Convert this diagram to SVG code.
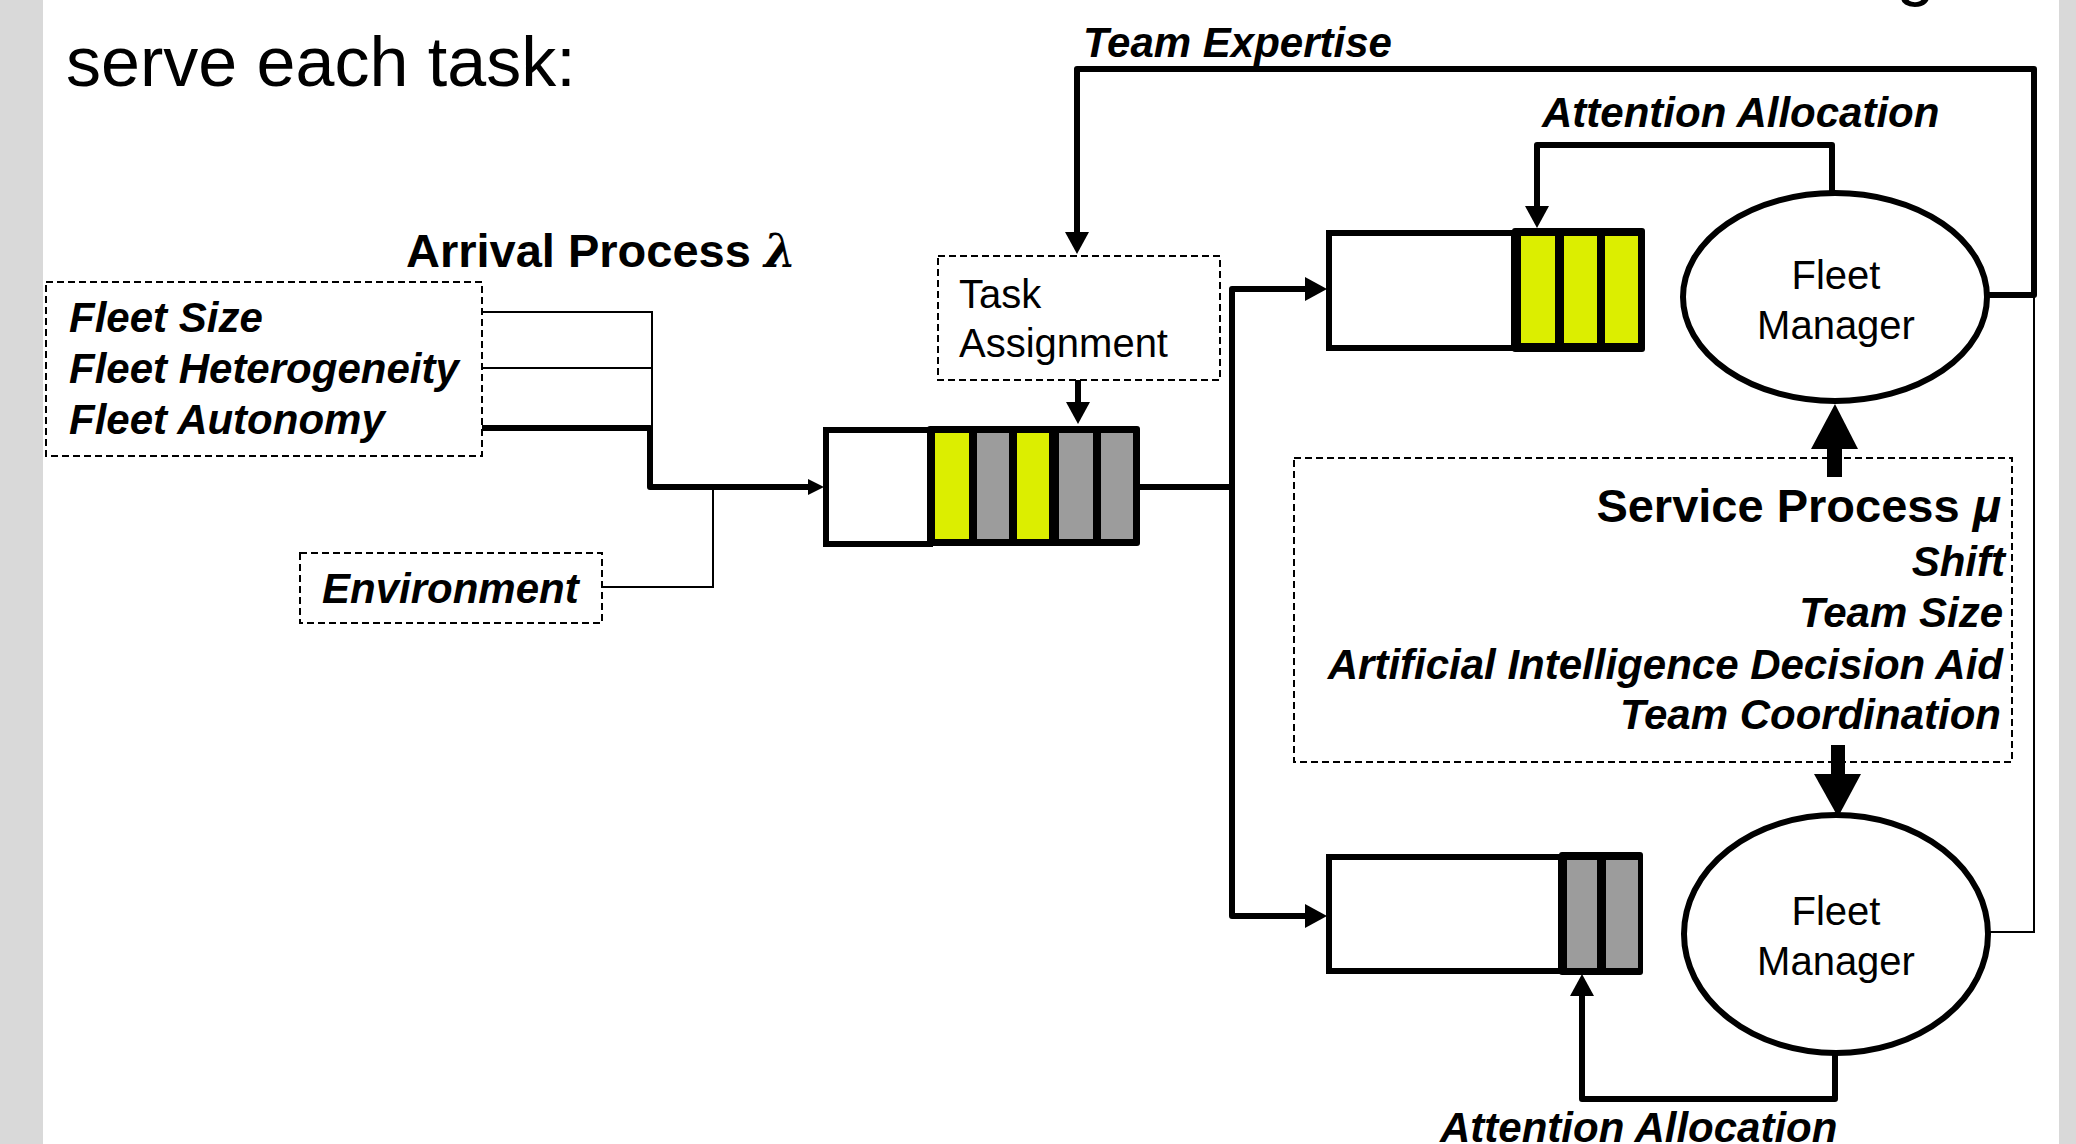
<svg xmlns="http://www.w3.org/2000/svg" width="2076" height="1144" viewBox="0 0 2076 1144">
<defs>
<style>
.bg{fill:#ffffff}
.strip{fill:#d9d9d9}
.dash{fill:none;stroke:#000;stroke-width:2;stroke-dasharray:7 4}
.thick{fill:none;stroke:#000;stroke-width:6;stroke-linejoin:round}
.thin{fill:none;stroke:#000;stroke-width:2}
.qwhite{fill:#fff;stroke:#000;stroke-width:6}
.qblock{fill:#000}
.y{fill:#dcee00}
.g{fill:#9c9c9c}
.ell{fill:#fff;stroke:#000;stroke-width:6}
.bi{font-family:"Liberation Sans",Arial,sans-serif;font-weight:bold;font-style:italic;font-size:42px;fill:#000}
.b{font-family:"Liberation Sans",Arial,sans-serif;font-weight:bold;font-size:47px;fill:#000}
.r{font-family:"Liberation Sans",Arial,sans-serif;font-size:40px;fill:#000}
.big{font-family:"Liberation Sans",Arial,sans-serif;font-size:70px;fill:#000}
.head{fill:#000}
</style>
<marker id="ah" markerUnits="userSpaceOnUse" markerWidth="22" markerHeight="24" viewBox="0 0 22 24" refX="0" refY="12" orient="auto">
<path d="M0,0 L22,12 L0,24 Z" fill="#000"/>
</marker>
<marker id="ahs" markerUnits="userSpaceOnUse" markerWidth="16" markerHeight="16" viewBox="0 0 16 16" refX="0" refY="8" orient="auto">
<path d="M0,0 L16,8 L0,16 Z" fill="#000"/>
</marker>
</defs>
<rect class="bg" x="0" y="0" width="2076" height="1144"/>
<rect class="strip" x="0" y="0" width="43" height="1144"/>
<rect class="strip" x="2059" y="0" width="17" height="1144"/>
<text class="big" x="66" y="86">serve each task:</text>
<text class="big" x="1896" y="-8">g</text>

<g id="connectors">
<path class="thin" d="M482,312 H652 V428"/>
<path class="thin" d="M482,368 H652"/>
<path class="thick" d="M482,428 H650 V487 H808" marker-end="url(#ahs)"/>
<path class="thin" d="M602,587 H713 V487"/>
<path class="thick" d="M1078,380 V402" marker-end="url(#ah)"/>
<path class="thick" d="M1140,487 H1232"/>
<path class="thick" d="M1232,487 V289 H1305" marker-end="url(#ah)"/>
<path class="thick" d="M1232,487 V916 H1305" marker-end="url(#ah)"/>
<path class="thick" d="M1987,295 H2034 V69 H1077 V232" marker-end="url(#ah)"/>
<path class="thin" d="M2034,295 V932 H1988"/>
<path class="thick" d="M1832,193 V145 H1537 V206" marker-end="url(#ah)"/>
<path class="thick" d="M1835,1053 V1099 H1582 V996" marker-end="url(#ah)"/>
<rect class="head" x="1827" y="447" width="15" height="30"/>
<polygon class="head" points="1811,449 1858,449 1835,404"/>
<rect class="head" x="1831" y="745" width="14" height="31"/>
<polygon class="head" points="1814,774 1861,774 1838,817"/>
</g>

<g id="labels">
<text class="bi" x="1083" y="57">Team Expertise</text>
<text class="bi" x="1542" y="127">Attention Allocation</text>
<text class="bi" x="1440" y="1142">Attention Allocation</text>
</g>

<g id="arrival-factors">
<rect class="dash" x="46" y="282" width="436" height="174"/>
<text class="bi" x="69" y="332">Fleet Size</text>
<text class="bi" x="69" y="383">Fleet Heterogeneity</text>
<text class="bi" x="69" y="434">Fleet Autonomy</text>
</g>

<g id="arrival-title">
<text class="b" x="406" y="267">Arrival Process <tspan font-family="'DejaVu Serif','Liberation Serif',serif" font-style="italic" font-weight="bold" font-size="46">λ</tspan></text>
</g>

<g id="environment">
<rect class="dash" x="300" y="553" width="302" height="70"/>
<text class="bi" x="322" y="603">Environment</text>
</g>

<g id="task-assignment">
<rect class="dash" x="938" y="256" width="282" height="124"/>
<text class="r" x="959" y="308">Task</text>
<text class="r" x="959" y="357">Assignment</text>
</g>

<g id="main-queue">
<rect class="qwhite" x="826" y="430" width="104" height="114"/>
<rect class="qblock" x="927" y="426" width="213" height="120" rx="3"/>
<rect class="y" x="935" y="433" width="34" height="106"/>
<rect class="g" x="977" y="433" width="32" height="106"/>
<rect class="y" x="1017" y="433" width="32" height="106"/>
<rect class="g" x="1059" y="433" width="34" height="106"/>
<rect class="g" x="1101" y="433" width="32" height="106"/>
</g>

<g id="top-queue">
<rect class="qwhite" x="1329" y="233" width="185" height="115"/>
<rect class="qblock" x="1512" y="228" width="133" height="124" rx="3"/>
<rect class="y" x="1521" y="236" width="34" height="107"/>
<rect class="y" x="1564" y="236" width="33" height="107"/>
<rect class="y" x="1605" y="236" width="33" height="107"/>
</g>

<g id="bottom-queue">
<rect class="qwhite" x="1329" y="857" width="232" height="114"/>
<rect class="qblock" x="1559" y="852" width="84" height="123" rx="3"/>
<rect class="g" x="1567" y="860" width="30" height="108"/>
<rect class="g" x="1606" y="860" width="32" height="108"/>
</g>

<g id="top-fleet-manager">
<ellipse class="ell" cx="1835" cy="297" rx="152" ry="104"/>
<text class="r" x="1836" y="289" text-anchor="middle">Fleet</text>
<text class="r" x="1836" y="339" text-anchor="middle">Manager</text>
</g>

<g id="bottom-fleet-manager">
<ellipse class="ell" cx="1836" cy="934" rx="152" ry="119"/>
<text class="r" x="1836" y="925" text-anchor="middle">Fleet</text>
<text class="r" x="1836" y="975" text-anchor="middle">Manager</text>
</g>

<g id="service-process">
<rect class="dash" x="1294" y="458" width="718" height="304"/>
<text class="b" x="2001" y="522" text-anchor="end">Service Process <tspan font-style="italic">μ</tspan></text>
<text class="bi" x="2005" y="576" text-anchor="end">Shift</text>
<text class="bi" x="2003" y="627" text-anchor="end">Team Size</text>
<text class="bi" x="2003" y="679" text-anchor="end">Artificial Intelligence Decision Aid</text>
<text class="bi" x="2001" y="729" text-anchor="end">Team Coordination</text>
</g>
</svg>
